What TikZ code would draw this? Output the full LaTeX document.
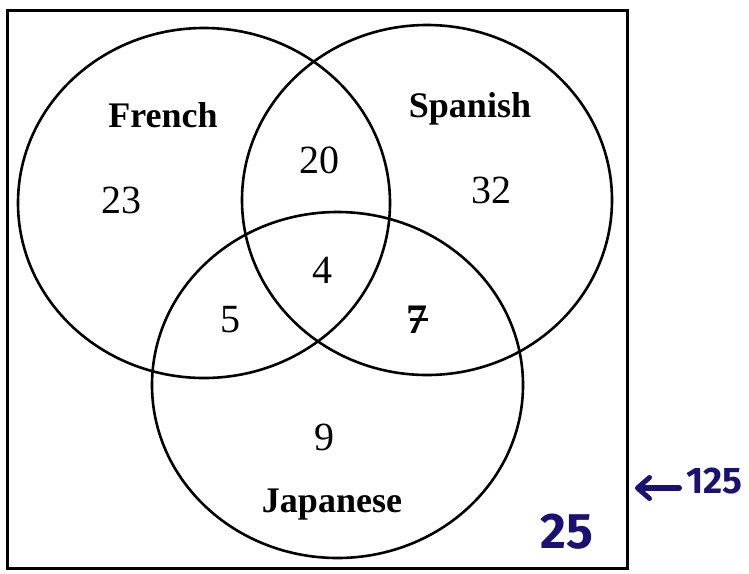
\documentclass[tikz,border=0pt]{standalone}
\usepackage{fontspec}
\setmainfont{Liberation Serif}
\newfontfamily\handfont{Fira Sans}
\usetikzlibrary{arrows.meta}
\definecolor{ink}{HTML}{1A1270}
\tikzset{
  setline/.style={line width=2.6pt, draw=black},
  setlabel/.style={font=\fontsize{36}{36}\selectfont\bfseries, anchor=base, inner sep=0pt},
  count/.style={font=\fontsize{40}{40}\selectfont, anchor=base, inner sep=0pt},
  hand/.style={font=\handfont\fontsize{50}{50}\selectfont\bfseries, text=ink, anchor=base, inner sep=0pt}
}
\begin{document}
\begin{tikzpicture}[x=1pt,y=-1pt]
\useasboundingbox (0,0) rectangle (749,573);
% universal set
\draw[line width=3pt] (7,10) rectangle (627,568);
% sets
\draw[setline] (204,203) ellipse [x radius=186, y radius=175];
\draw[setline] (427,200) ellipse [x radius=185, y radius=175];
\draw[setline] (337.5,385) ellipse [x radius=185.5, y radius=173];
% labels
\node[setlabel] (fr) at (163,127) {French};
\node[setlabel] (sp) at (470,117) {Spanish};
\node[setlabel] (jp) at (332,512) {Japanese};
% counts
\node[count] (n23) at (121,213) {23};
\node[count] (n20) at (319,173) {20};
\node[count] (n32) at (491,203) {32};
\node[count] (n4) at (322,283) {4};
\node[count] (n5) at (230,332) {5};
\node[count, font=\fontsize{42}{42}\selectfont\bfseries] (n7) at (417,333) {7};
\draw[line width=3pt] ([xshift=-7pt,yshift=14pt]n7.base) -- ([xshift=11pt,yshift=14pt]n7.base);
\node[count] (n9) at (324,450) {9};
% handwritten notes
\node[hand] (h25) at (567,548) {25};
\node[hand, font=\handfont\fontsize{37}{37}\selectfont\bfseries, anchor=west] (h125) at (686,481) {125};
\coordinate (arrowtip) at (635,488);
\draw[ink, line width=6pt, line cap=round, -{Straight Barb[length=12pt,width=21pt,line width=5pt,round]}] ([xshift=-7pt,yshift=-7pt]h125.west) -- (arrowtip);
\end{tikzpicture}
\end{document}
